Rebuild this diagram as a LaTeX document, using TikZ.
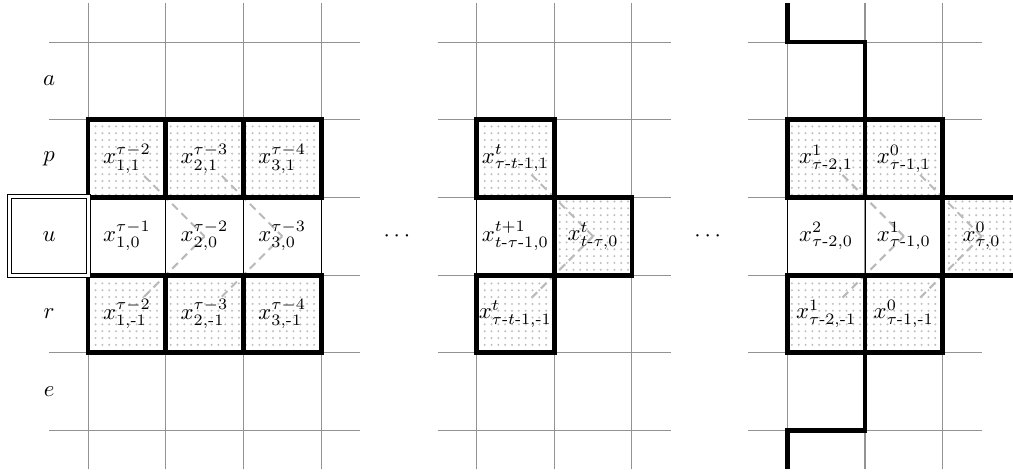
\documentclass[tikz,border=0pt]{standalone}
\usepackage{amsmath}
\usepackage{amssymb}
\usetikzlibrary{patterns}

\newcommand{\hy}{\text{-}}

\pgfdeclarelayer{bg}
\pgfsetlayers{bg,main}

\tikzset{
  grid line/.style={gray!85,line width=0.45pt},
  heavy/.style={line width=2.1pt},
  shaded/.style={pattern=dots,pattern color=gray!50},
  dep/.style={gray!55,line width=0.9pt,dash pattern=on 3.5pt off 2.3pt},
  entry/.style={inner sep=1pt},
  ubox/.style={draw,double,double distance=1.4pt,minimum size=1.22cm,inner sep=0pt}
}

\begin{document}
\begin{tikzpicture}[x=1.2cm,y=1.2cm]
\useasboundingbox (-0.133,-0.567) rectangle (12.905,5.541);
\clip (-0.133,-0.567) rectangle (12.905,5.541);
% the cells of rows p and r, and the last one of row u
\def\heavycells{1/3,2/3,3/3,1/1,2/1,3/1,6/3,6/1,7/2,10/3,11/3,10/1,11/1}
\foreach \x/\y in \heavycells
  \fill[shaded] (\x,\y) rectangle ++(1,1);
\fill[shaded] (12,2) rectangle (13,3);
% grid of the three panels
\foreach \a/\b in {1/4,6/8,10/12} {
  \foreach \x in {\a,...,\b}
    \draw[grid line] (\x,-0.5) -- (\x,5.5);
  \foreach \y in {0,...,5}
    \draw[grid line] (\a-0.5,\y) -- (\b+0.5,\y);
}
% white cells of row u
\foreach \x in {1,2,3,6,10,11}
  \draw (\x,2) rectangle ++(1,1);
% heavy borders
\foreach \x/\y in \heavycells
  \draw[heavy] (\x,\y) rectangle ++(1,1);
\draw[heavy] (13,3) -- (12,3) -- (12,2) -- (13,2);
\draw[heavy] (10,5.5) -- (10,5) -- (11,5) -- (11,4);
\draw[heavy] (11,1) -- (11,0) -- (10,0) -- (10,-0.5);
% row labels
\foreach \lab/\y in {a/4.5,p/3.5,r/1.5,e/0.5}
  \node (row\lab) at (0.5,\y) {$\lab$};
\node[ubox] (rowu) at (0.5,2.5) {$u$};
% left panel
\node[entry] (lp1) at (1.5,3.5) {$x^{\tau-2}_{1,1}$};
\node[entry] (lp2) at (2.5,3.5) {$x^{\tau-3}_{2,1}$};
\node[entry] (lp3) at (3.5,3.5) {$x^{\tau-4}_{3,1}$};
\node[entry] (lu1) at (1.5,2.5) {$x^{\tau-1}_{1,0}$};
\node[entry] (lu2) at (2.5,2.5) {$x^{\tau-2}_{2,0}$};
\node[entry] (lu3) at (3.5,2.5) {$x^{\tau-3}_{3,0}$};
\node[entry] (lr1) at (1.5,1.5) {$x^{\tau-2}_{1,\hy1}$};
\node[entry] (lr2) at (2.5,1.5) {$x^{\tau-3}_{2,\hy1}$};
\node[entry] (lr3) at (3.5,1.5) {$x^{\tau-4}_{3,\hy1}$};
\node (gap1) at (5,2.5) {$\cdots$};
% middle panel
\node[entry] (mp1) at (6.5,3.5) {$x^{t}_{\tau\hy t\hy1,1}$};
\node[entry] (mu1) at (6.5,2.5) {$x^{t+1}_{t\hy\tau\hy1,0}$};
\node[entry] (mu2) at (7.5,2.5) {$x^{t}_{t\hy\tau,0}$};
\node[entry] (mr1) at (6.5,1.5) {$x^{t}_{\tau\hy t\hy1,\hy1}$};
\node (gap2) at (9,2.5) {$\cdots$};
% right panel
\node[entry] (rp1) at (10.5,3.5) {$x^{1}_{\tau\hy2,1}$};
\node[entry] (rp2) at (11.5,3.5) {$x^{0}_{\tau\hy1,1}$};
\node[entry] (ru1) at (10.5,2.5) {$x^{2}_{\tau\hy2,0}$};
\node[entry] (ru2) at (11.5,2.5) {$x^{1}_{\tau\hy1,0}$};
\node[entry] (ru3) at (12.5,2.5) {$x^{0}_{\tau,0}$};
\node[entry] (rr1) at (10.5,1.5) {$x^{1}_{\tau\hy2,\hy1}$};
\node[entry] (rr2) at (11.5,1.5) {$x^{0}_{\tau\hy1,\hy1}$};
% dependencies
\begin{pgfonlayer}{bg}
\foreach \s/\t in {lp1/lu2,lr1/lu2,lp2/lu3,lr2/lu3,mp1/mu2,mr1/mu2,rp1/ru2,rr1/ru2,rp2/ru3,rr2/ru3}
  \draw[dep] (\s) -- (\t.center);
\end{pgfonlayer}
\end{tikzpicture}
\end{document}
